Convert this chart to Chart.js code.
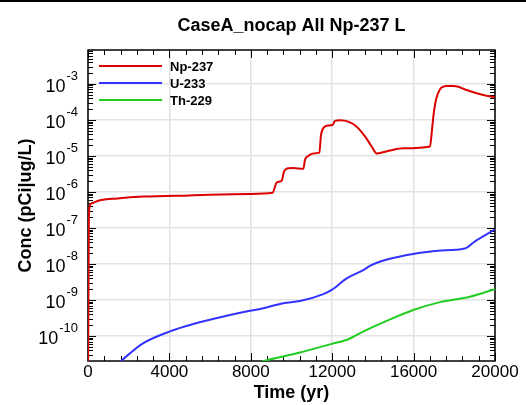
<!DOCTYPE html>
<html>
<head>
<meta charset="utf-8">
<script src="https://cdn.jsdelivr.net/npm/chart.js@4/dist/chart.umd.min.js"></script>
<style>
  body { margin: 0; background: #fff; }
  #wrap { position: relative; width: 526px; height: 405px; }
</style>
</head>
<body>
<div id="wrap"><canvas id="chart"></canvas></div>
<script>
// Concentration vs time (time in yr, conc in pCi|ug/L)
const npTime = [0, 40, 100, 260, 540, 1440, 2750, 5000, 7960, 9075, 9270, 9517, 9631, 9845, 10090, 10580, 10663, 10827, 11070, 11367, 11450, 11564, 11728, 12023, 12137, 12383, 12793, 13203, 13612, 13940, 14186, 14840, 15495, 16806, 16888, 16970, 17100, 17300, 17625, 17950, 18200, 18600, 19427, 20000];
const npConc = [1e-12, 1.5e-7, 4.4e-7, 5.0e-7, 5.75e-7, 6.6e-7, 7.4e-7, 8.0e-7, 8.8e-7, 9.5e-7, 1.82e-6, 2.04e-6, 3.63e-6, 4.57e-6, 4.6e-6, 4.37e-6, 7.76e-6, 1.0e-5, 1.17e-5, 1.23e-5, 3.8e-5, 5.89e-5, 6.9e-5, 7.24e-5, 9.33e-5, 9.77e-5, 8.9e-5, 6.46e-5, 3.47e-5, 1.82e-5, 1.17e-5, 1.41e-5, 1.62e-5, 1.82e-5, 4.27e-5, 1.23e-4, 3.63e-4, 7.08e-4, 8.7e-4, 8.7e-4, 8.3e-4, 6.76e-4, 4.9e-4, 4.27e-4];

const uTime = [1300, 1655, 2064, 2719, 3997, 5177, 6814, 7960, 8452, 9600, 10418, 11564, 11974, 12711, 13530, 13923, 14742, 15971, 17199, 18509, 19000, 20000];
const uConc = [1.2e-11, 2.06e-11, 3.31e-11, 6.3e-11, 1.32e-10, 2.14e-10, 3.63e-10, 5.0e-10, 5.6e-10, 8.1e-10, 9.3e-10, 1.45e-9, 1.9e-9, 3.98e-9, 6.76e-9, 9.3e-9, 1.35e-8, 1.9e-8, 2.34e-8, 2.69e-8, 4.17e-8, 9.1e-8];

const thTime = [8000, 8698, 10418, 11974, 12793, 13694, 14676, 15985, 17297, 18771, 20000];
const thConc = [1.6e-11, 2.06e-11, 3.47e-11, 6.03e-11, 8.13e-11, 1.48e-10, 2.63e-10, 5.25e-10, 8.7e-10, 1.23e-9, 2.0e-9];

const seriesNames = ['Np-237', 'U-233', 'Th-229'];
const xTicks = [0, 4000, 8000, 12000, 16000, 20000];
const yExponents = [-10, -9, -8, -7, -6, -5, -4, -3];

const FONT = '"Liberation Sans", Arial, sans-serif';

function toPoints(t, c) {
    return t.map((x, i) => ({ x: x, y: c[i] }));
}

// frame and inward ticks go under the curves
const frame = {
    id: 'frame',
    beforeDatasetsDraw(chart) {
        const ctx = chart.ctx;
        const a = chart.chartArea;
        const xs = chart.scales.x, ys = chart.scales.y;
        ctx.save();
        ctx.strokeStyle = '#000';
        ctx.lineWidth = 1;
        ctx.beginPath();
        // x ticks every 800, majors every 4000
        for (let t = 0; t <= 20000; t += 800) {
            const px = Math.round(xs.getPixelForValue(t)) + 0.5;
            const len = t % 4000 === 0 ? 8 : 5;
            ctx.moveTo(px, a.bottom); ctx.lineTo(px, a.bottom - len);
            ctx.moveTo(px, a.top); ctx.lineTo(px, a.top + len);
        }
        // log y ticks
        for (let e = -11; e <= -3; e++) {
            for (let m = 1; m <= 9; m++) {
                const v = m * Math.pow(10, e);
                if (v < ys.min || v > ys.max) continue;
                const py = Math.round(ys.getPixelForValue(v)) + 0.5;
                const len = m === 1 ? 8 : 5;
                ctx.moveTo(a.left, py); ctx.lineTo(a.left + len, py);
                ctx.moveTo(a.right, py); ctx.lineTo(a.right - len, py);
            }
        }
        ctx.stroke();
        ctx.lineWidth = 1.5;
        ctx.strokeRect(a.left, a.top, a.right - a.left, a.bottom - a.top);
        ctx.restore();
    }
};

// tick labels, titles and legend
const labels = {
    id: 'labels',
    afterDatasetsDraw(chart) {
        const ctx = chart.ctx;
        const a = chart.chartArea;
        const xs = chart.scales.x, ys = chart.scales.y;
        ctx.save();

        // rule across the top of the page
        ctx.fillStyle = '#000';
        ctx.fillRect(0, 0, chart.width, 2);

        ctx.font = '17px ' + FONT;
        ctx.textAlign = 'center';
        ctx.textBaseline = 'alphabetic';
        xTicks.forEach(t => ctx.fillText(String(t), xs.getPixelForValue(t), 377));

        yExponents.forEach(e => {
            const py = ys.getPixelForValue(Math.pow(10, e));
            ctx.font = '13px ' + FONT;
            const expTxt = String(e);
            const ew = ctx.measureText(expTxt).width;
            ctx.textAlign = 'left';
            ctx.fillText(expTxt, 78 - ew, py - 4);
            ctx.font = '18px ' + FONT;
            ctx.textAlign = 'right';
            ctx.fillText('10', 78 - ew - 1, py + 8);
        });

        ctx.font = 'bold 18px ' + FONT;
        ctx.textAlign = 'center';
        ctx.fillText('CaseA_nocap All Np-237 L', (a.left + a.right) / 2, 31);
        ctx.fillText('Time (yr)', (a.left + a.right) / 2, 398);
        ctx.save();
        ctx.translate(31, (a.top + a.bottom) / 2);
        ctx.rotate(-Math.PI / 2);
        ctx.fillText('Conc (pCi|ug/L)', 0, 0);
        ctx.restore();

        ctx.font = 'bold 13px ' + FONT;
        ctx.textAlign = 'left';
        ctx.textBaseline = 'middle';
        chart.data.datasets.forEach((ds, i) => {
            const ly = 66 + i * 17;
            ctx.strokeStyle = ds.borderColor;
            ctx.lineWidth = 2;
            ctx.beginPath();
            ctx.moveTo(99, ly); ctx.lineTo(162, ly);
            ctx.stroke();
            ctx.fillStyle = '#000';
            ctx.fillText(ds.label, 170, ly + 1);
        });
        ctx.restore();
    }
};

new Chart(document.getElementById('chart'), {
    type: 'line',
    data: {
        datasets: [{
            label: seriesNames[0],
            data: toPoints(npTime, npConc),
            borderColor: '#dd0000'
        }, {
            label: seriesNames[1],
            data: toPoints(uTime, uConc),
            borderColor: '#3333ff'
        }, {
            label: seriesNames[2],
            data: toPoints(thTime, thConc),
            borderColor: '#22cc22'
        }]
    },
    options: {
        responsive: true,
        maintainAspectRatio: false,
        animation: false,
        layout: { padding: { top: 50, right: 31, left: 0, bottom: 0 } },
        elements: {
            point: { radius: 0 },
            line: { borderWidth: 2, cubicInterpolationMode: 'monotone', fill: false }
        },
        plugins: {
            legend: { display: false },
            title: { display: false },
            tooltip: { enabled: false }
        },
        scales: {
            x: {
                type: 'linear',
                min: 0,
                max: 20000,
                afterFit: s => { s.height = 44; },
                afterBuildTicks: s => { s.ticks = xTicks.map(v => ({ value: v })); },
                ticks: { display: false },
                grid: { color: '#e2e2e2', lineWidth: 1.5, drawTicks: false },
                border: { display: false }
            },
            y: {
                type: 'logarithmic',
                min: 2.02e-11,
                max: 8.7e-3,
                afterFit: s => { s.width = 88; },
                afterBuildTicks: s => { s.ticks = yExponents.map(e => ({ value: Math.pow(10, e) })); },
                ticks: { display: false },
                grid: { color: '#e2e2e2', lineWidth: 1.5, drawTicks: false },
                border: { display: false }
            }
        }
    },
    plugins: [frame, labels]
});
</script>
</body>
</html>
